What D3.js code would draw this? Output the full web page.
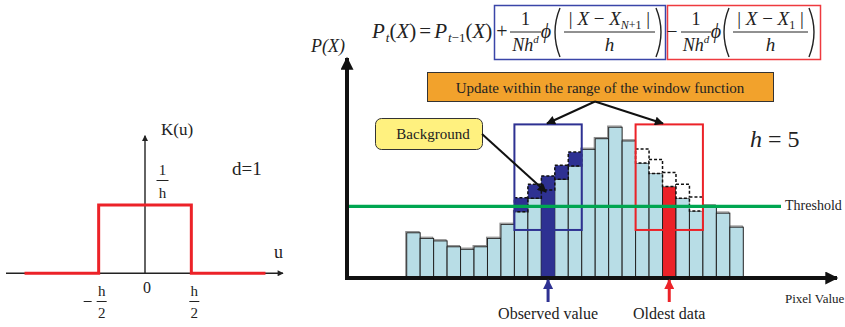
<!DOCTYPE html>
<html>
<head>
<meta charset="utf-8">
<script src="https://cdn.jsdelivr.net/npm/d3@7"></script>
<style>
  body { margin: 0; background: #fff; }
  svg { display: block; }
  text { font-family: "Liberation Serif", "Times New Roman", serif; fill: #222; }
  .it { font-style: italic; }
</style>
</head>
<body>
<div class="chart"></div>
<script>

// histogram bins (pixel value classes) and counts before the update
var bins = [1,2,3,4,5,6,7,8,9,10,11,12,13,14,15,16,17,18,19,20,21,22,23,24,25];
var counts = [15.8,13.8,12.9,10.8,9.9,10.8,13.8,18.8,23.3,28.1,31.1,34.9,39.6,45.6,49.4,53.5,48.6,40.7,37.0,32.3,28.1,23.6,25.4,22.8,17.8];

// 1/(N h^d) in count units
var kernelStep = 5;
var addWindow = [9,10,11,12,13];     // bins around the observed value
var removeWindow = [18,19,20,21,22]; // bins around the oldest data
var observedBin = 11;
var oldestBin = 20;
var threshold = 25.2;
var windowRange = [16.8, 54.5];

// box kernel K(u), u in units of h
var kernelU = [-1.3, -0.5, -0.5, 0.5, 0.5, 1.3];
var kernelK = [0, 0, 1, 1, 0, 0];
var kernelTickU = [-0.5, 0, 0.5];

var width = 845, height = 327;
var blue = "#2e3192", red = "#ec2228", lightBlue = "#b8dde6";

var svg = d3.select('.chart').append('svg').attr('width', width).attr('height', height);

var defs = svg.append('defs');
function marker(id, color, w, h) {
  defs.append('marker').attr('id', id)
    .attr('viewBox', '0 0 10 10').attr('refX', 9).attr('refY', 5)
    .attr('markerUnits', 'userSpaceOnUse')
    .attr('markerWidth', w).attr('markerHeight', h)
    .attr('orient', 'auto')
    .append('path').attr('d', 'M0,0 L10,5 L0,10 Z').attr('fill', color);
}
marker('arBlack', '#111', 11, 9);
marker('arAxis', '#111', 14, 13);
marker('arBlue', blue, 10, 10);
marker('arRed', red, 10, 10);
marker('arThin', '#222', 8, 6);

// ---------------- left: kernel ----------------
var kx = d3.scaleLinear().domain([-1.5, 1.5]).range([6, 284]);
var ky = d3.scaleLinear().domain([0, 2]).range([273.3, 136.7]);

svg.append('line').attr('x1', kx(-1.5)).attr('x2', kx(1.5) - 1)
  .attr('y1', ky(0)).attr('y2', ky(0))
  .attr('stroke', '#222').attr('stroke-width', 1.4).attr('marker-end', 'url(#arThin)');
svg.append('line').attr('x1', kx(0)).attr('x2', kx(0))
  .attr('y1', ky(0)).attr('y2', ky(2) - 1)
  .attr('stroke', '#222').attr('stroke-width', 1.4).attr('marker-end', 'url(#arThin)');

var kline = d3.line().x(function(d){ return kx(d[0]); }).y(function(d){ return ky(d[1]); });
svg.append('path').attr('d', kline(d3.zip(kernelU, kernelK)))
  .attr('fill', 'none').attr('stroke', red).attr('stroke-width', 3);

svg.append('text').attr('x', 161).attr('y', 135).attr('font-size', 17).text('K(u)');
svg.append('text').attr('x', 274).attr('y', 258).attr('font-size', 18).text('u');
svg.append('text').attr('x', 232).attr('y', 175).attr('font-size', 19).text('d=1');

// 1/h label
svg.append('text').attr('x', 162.5).attr('y', 175).attr('font-size', 15).attr('text-anchor', 'middle').text('1');
svg.append('line').attr('x1', 156.5).attr('x2', 168.5).attr('y1', 180.5).attr('y2', 180.5).attr('stroke', '#222').attr('stroke-width', 1);
svg.append('text').attr('x', 162.5).attr('y', 198).attr('font-size', 15).attr('text-anchor', 'middle').text('h');

kernelTickU.forEach(function(u) {
  var cx = kx(u);
  if (u === 0) {
    svg.append('text').attr('x', cx + 2).attr('y', 293).attr('font-size', 16).attr('text-anchor', 'middle').text('0');
    return;
  }
  svg.append('text').attr('x', cx + 3).attr('y', 296).attr('font-size', 15).attr('text-anchor', 'middle').text('h');
  svg.append('line').attr('x1', cx - 2).attr('x2', cx + 8).attr('y1', 301.5).attr('y2', 301.5).attr('stroke', '#222').attr('stroke-width', 1);
  svg.append('text').attr('x', cx + 3).attr('y', 318).attr('font-size', 15).attr('text-anchor', 'middle').text('2');
  if (u < 0) {
    svg.append('line').attr('x1', cx - 15).attr('x2', cx - 7).attr('y1', 301.5).attr('y2', 301.5).attr('stroke', '#222').attr('stroke-width', 1);
  }
});

// ---------------- right: histogram ----------------
var x = d3.scaleBand().domain(bins).range([406.7, 743.3]).padding(0);
var y = d3.scaleLinear().domain([0, 80]).range([277, 53]);
var bw = x.bandwidth();

var bars = svg.append('g');
// faint grey edge behind each bar
bars.selectAll('.shadow').data(bins).enter().append('rect')
  .attr('x', function(d){ return x(d) - 1; })
  .attr('y', function(d,i){ return y(counts[i]) - 1.2; })
  .attr('width', bw).attr('height', function(d,i){ return y(0) - y(counts[i]); })
  .attr('fill', 'none').attr('stroke', '#8a8a8a').attr('stroke-width', 1);

bars.selectAll('.bar').data(bins).enter().append('rect')
  .attr('x', function(d){ return x(d); })
  .attr('y', function(d,i){ return y(counts[i]); })
  .attr('width', bw).attr('height', function(d,i){ return y(0) - y(counts[i]); })
  .attr('fill', function(d){ return d === observedBin ? blue : (d === oldestBin ? red : lightBlue); })
  .attr('stroke', '#222').attr('stroke-width', 1);

// observed bar also covers the added step
bars.append('rect')
  .attr('x', x(observedBin)).attr('width', bw)
  .attr('y', y(counts[observedBin - 1] + kernelStep))
  .attr('height', y(0) - y(counts[observedBin - 1] + kernelStep))
  .attr('fill', blue);

// added steps (dark blue dashed) and removed steps (white dashed)
bars.selectAll('.add').data(addWindow).enter().append('rect')
  .attr('x', function(d){ return x(d); })
  .attr('y', function(d){ return y(counts[d - 1] + kernelStep); })
  .attr('width', bw).attr('height', y(0) - y(kernelStep))
  .attr('fill', blue).attr('stroke', '#111').attr('stroke-width', 1.5).attr('stroke-dasharray', '3,2');

bars.selectAll('.rem').data(removeWindow).enter().append('rect')
  .attr('x', function(d){ return x(d); })
  .attr('y', function(d){ return y(counts[d - 1] + kernelStep); })
  .attr('width', bw).attr('height', y(0) - y(kernelStep))
  .attr('fill', '#fff').attr('stroke', '#111').attr('stroke-width', 1.5).attr('stroke-dasharray', '3,2');

// window frames
function frame(win, color) {
  svg.append('rect')
    .attr('x', x(win[0])).attr('y', y(windowRange[1]))
    .attr('width', x(win[win.length - 1]) + bw - x(win[0]))
    .attr('height', y(windowRange[0]) - y(windowRange[1]))
    .attr('fill', 'none').attr('stroke', color).attr('stroke-width', 2);
}
frame(addWindow, blue);
frame(removeWindow, red);

// threshold
svg.append('line').attr('x1', 348).attr('x2', 781)
  .attr('y1', y(threshold)).attr('y2', y(threshold))
  .attr('stroke', '#00a651').attr('stroke-width', 3.2);
svg.append('text').attr('x', 785).attr('y', y(threshold) + 4).attr('font-size', 14).text('Threshold');

// axes
svg.append('line').attr('x1', 347).attr('x2', 347).attr('y1', 280).attr('y2', 58)
  .attr('stroke', '#111').attr('stroke-width', 4).attr('marker-end', 'url(#arAxis)');
svg.append('line').attr('x1', 345).attr('x2', 837).attr('y1', 278).attr('y2', 278)
  .attr('stroke', '#111').attr('stroke-width', 4).attr('marker-end', 'url(#arAxis)');
svg.append('text').attr('class', 'it').attr('x', 311).attr('y', 52).attr('font-size', 18).text('P(X)');
svg.append('text').attr('x', 785).attr('y', 303).attr('font-size', 13).text('Pixel Value');

// observed / oldest markers
[[observedBin, blue, 'arBlue', 'Observed value'], [oldestBin, red, 'arRed', 'Oldest data']].forEach(function(m) {
  var cx = x(m[0]) + bw / 2;
  svg.append('line').attr('x1', cx).attr('x2', cx).attr('y1', 302).attr('y2', 280)
    .attr('stroke', m[1]).attr('stroke-width', 3).attr('marker-end', 'url(#' + m[2] + ')');
  svg.append('text').attr('x', cx).attr('y', 319).attr('font-size', 16).attr('text-anchor', 'middle').text(m[3]);
});

// callouts
svg.append('rect').attr('x', 427.5).attr('y', 72.5).attr('width', 346).attr('height', 29)
  .attr('fill', '#f2a22c').attr('stroke', '#333').attr('stroke-width', 1);
svg.append('text').attr('x', 600).attr('y', 92.5).attr('font-size', 15).attr('text-anchor', 'middle')
  .text('Update within the range of the window function');
svg.append('line').attr('x1', 595).attr('y1', 101.5).attr('x2', 547).attr('y2', 123.5)
  .attr('stroke', '#111').attr('stroke-width', 2).attr('marker-end', 'url(#arBlack)');
svg.append('line').attr('x1', 595).attr('y1', 101.5).attr('x2', 663).attr('y2', 123.5)
  .attr('stroke', '#111').attr('stroke-width', 2).attr('marker-end', 'url(#arBlack)');

svg.append('rect').attr('x', 375.5).attr('y', 118.5).attr('width', 107).attr('height', 31).attr('rx', 6)
  .attr('fill', '#fff17f').attr('stroke', '#333').attr('stroke-width', 1);
svg.append('text').attr('x', 433).attr('y', 139).attr('font-size', 15).attr('text-anchor', 'middle').text('Background');
svg.append('line').attr('x1', 482).attr('y1', 134).attr('x2', 546).attr('y2', 192)
  .attr('stroke', '#111').attr('stroke-width', 2).attr('marker-end', 'url(#arBlack)');

svg.append('text').attr('x', 750).attr('y', 147).attr('font-size', 24)
  .html('<tspan class="it">h</tspan><tspan dx="6">=</tspan><tspan dx="6">5</tspan>');

// ---------------- formula ----------------
var f = svg.append('g');
f.append('text').attr('x', 372).attr('y', 38).attr('font-size', 21)
  .html('<tspan class="it">P</tspan><tspan class="it" font-size="13" dx="1" dy="4">t</tspan>' +
        '<tspan dy="-4">(</tspan><tspan class="it">X</tspan>)<tspan dx="3">=</tspan>' +
        '<tspan dx="3" class="it">P</tspan><tspan font-size="13" dx="1" dy="4"><tspan class="it">t</tspan>−1</tspan>' +
        '<tspan dy="-4">(</tspan><tspan class="it">X</tspan>)');

f.append('rect').attr('x', 494.5).attr('y', 5.5).attr('width', 171).attr('height', 54)
  .attr('fill', 'none').attr('stroke', '#3a45a8').attr('stroke-width', 1.5);
f.append('rect').attr('x', 667.5).attr('y', 5.5).attr('width', 153).attr('height', 54)
  .attr('fill', 'none').attr('stroke', '#ee3a3f').attr('stroke-width', 1.5);

function fracTerm(sign, signX, fx0, fx1, phiX, p0, inner0, inner1, numHtml) {
  f.append('text').attr('x', signX).attr('y', 38).attr('font-size', 20).attr('text-anchor', 'middle').text(sign);
  f.append('line').attr('x1', fx0).attr('x2', fx1).attr('y1', 32).attr('y2', 32).attr('stroke', '#222').attr('stroke-width', 1);
  f.append('text').attr('x', (fx0 + fx1) / 2).attr('y', 25).attr('font-size', 18).attr('text-anchor', 'middle').text('1');
  f.append('text').attr('x', (fx0 + fx1) / 2).attr('y', 51).attr('font-size', 18).attr('text-anchor', 'middle')
    .html('<tspan class="it">Nh</tspan><tspan class="it" font-size="11" dy="-8">d</tspan>');
  f.append('text').attr('class', 'it').attr('x', phiX).attr('y', 38).attr('font-size', 20).attr('text-anchor', 'middle').text('ϕ');
  f.append('path').attr('d', 'M' + (p0 + 7) + ',8 Q' + (p0 - 3) + ',32 ' + (p0 + 7) + ',57')
    .attr('fill', 'none').attr('stroke', '#222').attr('stroke-width', 1.4);
  f.append('path').attr('d', 'M' + (inner1 + 1) + ',8 Q' + (inner1 + 11) + ',32 ' + (inner1 + 1) + ',57')
    .attr('fill', 'none').attr('stroke', '#222').attr('stroke-width', 1.4);
  f.append('line').attr('x1', inner0).attr('x2', inner1).attr('y1', 32).attr('y2', 32).attr('stroke', '#222').attr('stroke-width', 1);
  f.append('text').attr('x', (inner0 + inner1) / 2).attr('y', 25).attr('font-size', 19).attr('text-anchor', 'middle').html(numHtml);
  f.append('text').attr('class', 'it').attr('x', (inner0 + inner1) / 2).attr('y', 51).attr('font-size', 19).attr('text-anchor', 'middle').text('h');
}
fracTerm('+', 502, 510, 541, 546, 553, 564, 655,
  '| <tspan class="it">X</tspan> − <tspan class="it">X</tspan><tspan class="it" font-size="12" dy="4">N</tspan><tspan font-size="12">+1</tspan><tspan dy="-4"> |</tspan>');
fracTerm('−', 672, 681, 711, 716, 722, 733, 808,
  '| <tspan class="it">X</tspan> − <tspan class="it">X</tspan><tspan font-size="12" dy="4">1</tspan><tspan dy="-4"> |</tspan>');

</script>
</body>
</html>
